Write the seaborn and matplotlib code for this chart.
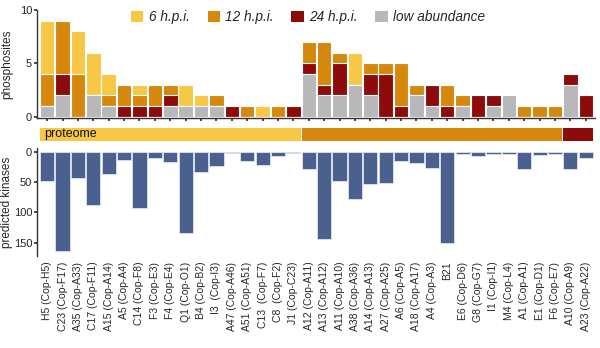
import matplotlib
matplotlib.use("Agg")
import matplotlib.pyplot as plt
import seaborn as sns
import pandas as pd
import numpy as np
from matplotlib.patches import Patch

sns.set_theme(style="white")
plt.rcParams['font.family'] = ['Liberation Sans', 'DejaVu Sans']

labels = ["H5 (Cop-H5)", "C23 (Cop-F17)", "A35 (Cop-A33)", "C17 (Cop-F11)", "A15 (Cop-A14)",
          "A5 (Cop-A4)", "C14 (Cop-F8)", "F3 (Cop-E3)", "F4 (Cop-E4)", "Q1 (Cop-O1)",
          "B4 (Cop-B2)", "I3  (Cop-I3)", "A47 (Cop-A46)", "A51 (Cop-A51)", "C13  (Cop-F7)",
          "C8  (Cop-F2)", "J1 (Cop-C23)", "A12 (Cop-A11)", "A13 (Cop-A12)", "A11 (Cop-A10)",
          "A38 (Cop-A36)", "A14 (Cop-A13)", "A27 (Cop-A25)", "A6 (Cop-A5)", "A18 (Cop-A17)",
          "A4 (Cop-A3)", "B21", "E6 (Cop-D6)", "G8 (Cop-G7)", "I1 (Cop-I1)", "M4 (Cop-L4)",
          "A1 (Cop-A1)", "E1 (Cop-D1)", "F6 (Cop-E7)", "A10 (Cop-A9)", "A23 (Cop-A22)"]
low_abundance = [1, 2, 0, 2, 1, 0, 0, 0, 1, 1, 1, 1, 0, 0, 0, 0, 0,
                 4, 2, 2, 3, 2, 0, 0, 2, 1, 0, 1, 0, 1, 2, 0, 0, 0, 3, 0]
hpi24 = [0, 2, 0, 0, 0, 1, 1, 1, 1, 0, 0, 0, 1, 0, 0, 0, 1,
         1, 1, 3, 0, 2, 4, 1, 0, 2, 1, 0, 2, 1, 0, 0, 0, 0, 1, 2]
hpi12 = [3, 5, 4, 0, 1, 2, 1, 2, 1, 0, 0, 1, 0, 1, 0, 1, 0,
         2, 4, 1, 0, 1, 1, 4, 1, 0, 2, 1, 0, 0, 0, 1, 1, 1, 0, 0]
hpi6 = [5, 0, 4, 4, 2, 0, 1, 0, 0, 2, 1, 0, 0, 0, 1, 0, 0,
        0, 0, 0, 3, 0, 0, 0, 0, 0, 0, 0, 0, 0, 0, 0, 0, 0, 0, 0]
kinases = [48, 164, 44, 88, 37, 14, 93, 11, 17, 134, 33, 24, 2, 16, 22, 8, 3,
           28, 144, 49, 78, 53, 51, 16, 19, 27, 150, 4, 7, 4, 4, 29, 5, 4, 28, 11]
groups = ["proteome"] * 17 + ["12"] * 17 + ["24"] * 2
group_names = ["proteome", "12", "24"]
group_text = ["proteome", "", ""]

c6, c12, c24, cgray = "#F7C745", "#D5880B", "#8E0B0B", "#B8B8BB"
cblue = "#4A6190"
group_colors = [c6, c12, c24]

df = pd.DataFrame({"label": labels, "gray": low_abundance, "h24": hpi24,
                   "h12": hpi12, "h6": hpi6, "kin": kinases})
df["c_gray"] = df["gray"]
df["c_h24"] = df["c_gray"] + df["h24"]
df["c_h12"] = df["c_h24"] + df["h12"]
df["c_h6"] = df["c_h12"] + df["h6"]

fig = plt.figure(figsize=(6, 3.48), dpi=100)
W, H = 600, 348
L, R = 37 / W, 595 / W
ax1 = fig.add_axes([L, 1 - 118 / H, R - L, 108 / H])
axb = fig.add_axes([L, 1 - 143 / H, R - L, 17 / H])
ax2 = fig.add_axes([L, 1 - 256 / H, R - L, 108 / H])

n = len(labels)
xl = (-0.66, n - 1 + 0.6)

for col, colr in [("c_h6", c6), ("c_h12", c12), ("c_h24", c24), ("c_gray", cgray)]:
    sns.barplot(data=df, x="label", y=col, color=colr, ax=ax1, width=0.94,
                edgecolor="white", linewidth=0.8, saturation=1, errorbar=None)
ax1.set_xlim(*xl)
ax1.set_ylim(-0.12, 10)
ax1.set_yticks([0, 5, 10])
ax1.set_xticks(range(n))
ax1.set_xticklabels([])
ax1.set_xlabel("")
ax1.set_ylabel("phosphosites", fontsize=8.5)
ax1.yaxis.set_label_coords(-0.043, 0.5)
ax1.tick_params(axis="y", labelsize=8, length=2.5, pad=1, left=True, color="#333333")
ax1.tick_params(axis="x", length=2, color="#333333", bottom=True)
for s in ["top", "right"]:
    ax1.spines[s].set_visible(False)
for s in ["left", "bottom"]:
    ax1.spines[s].set_color("#333333")
    ax1.spines[s].set_linewidth(1.0)

handles = [Patch(facecolor=c, edgecolor="none") for c in [c6, c12, c24, cgray]]
leg = ax1.legend(handles, ["6 h.p.i.", "12 h.p.i.", "24 h.p.i.", "low abundance"],
                 ncol=4, frameon=False, loc="upper right", bbox_to_anchor=(0.825, 1.11),
                 handlelength=0.9, handleheight=0.9, handletextpad=0.4, columnspacing=1.3,
                 prop={"size": 9.8, "style": "italic"})

# band
axb.set_xlim(*xl)
axb.set_ylim(0, 1)
for g, colr, txt in zip(group_names, group_colors, group_text):
    idx = [i for i, gg in enumerate(groups) if gg == g]
    x0, x1 = min(idx) - 0.47, max(idx) + 0.47
    axb.add_patch(plt.Rectangle((x0, 0.1), x1 - x0, 0.8, facecolor=colr, edgecolor="none"))
    if txt:
        axb.text(x0 + 0.3, 0.5, txt, va="center", ha="left", fontsize=9, color="#111111")
axb.axis("off")

sns.barplot(data=df, x="label", y="kin", color=cblue, ax=ax2, width=0.92,
            edgecolor="#DDE4F0", linewidth=0.6, saturation=1, errorbar=None)
ax2.set_xlim(*xl)
ax2.set_ylim(172, -6)
ax2.set_yticks([0, 50, 100, 150])
ax2.set_xticks(range(n))
ax2.set_xticklabels(labels, rotation=90, fontsize=7.5)
ax2.set_xlabel("")
ax2.set_ylabel("predicted kinases", fontsize=8.5)
ax2.yaxis.set_label_coords(-0.043, 0.5)
ax2.tick_params(axis="y", labelsize=8, length=2.5, pad=1, left=True, color="#333333")
ax2.tick_params(axis="x", length=0, pad=4)
for s in ["top", "right", "bottom"]:
    ax2.spines[s].set_visible(False)
ax2.spines["left"].set_color("#333333")
ax2.spines["left"].set_linewidth(1.0)

fig.savefig("out.png", dpi=100)
